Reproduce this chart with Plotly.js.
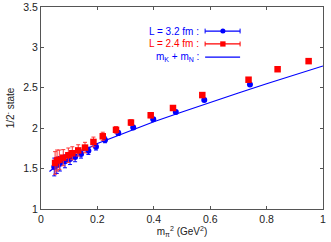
<!DOCTYPE html>
<html>
<head>
<meta charset="utf-8">
<script src="https://cdn.plot.ly/plotly-3.0.1.min.js"></script>
<style>html,body{margin:0;padding:0;background:#fff;}#chart{width:331px;height:242px;}</style>
</head>
<body>
<div id="chart"></div>
<script>
// L = 3.2 fm (blue circles)
const blueX = [0.047, 0.056, 0.067, 0.085, 0.103, 0.121, 0.142, 0.168, 0.195, 0.227, 0.274, 0.327, 0.398, 0.478, 0.579, 0.741];
const blueY = [1.52, 1.54, 1.56, 1.59, 1.62, 1.645, 1.68, 1.72, 1.77, 1.855, 1.94, 2.01, 2.11, 2.20, 2.35, 2.54];
const blueErr = [0.11, 0.10, 0.09, 0.08, 0.07, 0.06, 0.05, 0.045, 0.04, 0.035, 0.03, 0.025, 0.02, 0.02, 0.02, 0.015];
// L = 2.4 fm (red squares)
const redX = [0.050, 0.057, 0.065, 0.079, 0.097, 0.111, 0.132, 0.156, 0.186, 0.219, 0.266, 0.319, 0.389, 0.468, 0.572, 0.736, 0.839, 0.949];
const redY = [1.57, 1.60, 1.61, 1.635, 1.665, 1.69, 1.725, 1.76, 1.83, 1.90, 1.98, 2.07, 2.16, 2.25, 2.41, 2.60, 2.73, 2.83];
const redErr = [0.14, 0.13, 0.12, 0.10, 0.09, 0.08, 0.07, 0.065, 0.06, 0.05, 0.04, 0.035, 0.03, 0.03, 0.025, 0.02, 0.015, 0.015];
// m_K + m_N curve
const lineX = [0.03, 0.05, 0.075, 0.1, 0.15, 0.2, 0.25, 0.3, 0.4, 0.5, 0.6, 0.7, 0.8, 0.9, 1.0];
const lineY = [1.465, 1.52, 1.575, 1.625, 1.72, 1.81, 1.88, 1.95, 2.08, 2.20, 2.32, 2.435, 2.55, 2.66, 2.77];
// axis ticks
const xTicks = [0, 0.2, 0.4, 0.6, 0.8, 1];
const xTickText = ['0', '0.2', '0.4', '0.6', '0.8', '1'];
const yTicks = [1, 1.5, 2, 2.5, 3, 3.5];
const yTickText = ['1', '1.5', '2', '2.5', '3', '3.5'];
const legendLabels = ['L = 3.2 fm :', 'L = 2.4 fm :', 'm<sub>K</sub> + m<sub>N</sub> :'];

const BLUE = '#0000ff', RED = '#ff0000';

const traces = [
  {x: lineX, y: lineY, mode: 'lines', line: {color: BLUE, width: 1.2}, hoverinfo: 'skip'},
  {x: blueX, y: blueY, mode: 'markers', marker: {symbol: 'circle', size: 6, color: BLUE},
   error_y: {type: 'data', array: blueErr, visible: true, color: BLUE, thickness: 1, width: 2}},
  {x: redX, y: redY, mode: 'markers', marker: {symbol: 'square', size: 6.5, color: RED},
   error_y: {type: 'data', array: redErr, visible: true, color: '#ff3333', thickness: 1, width: 2}}
];

// legend geometry (paper coords)
const rows = [0.881, 0.817, 0.752];
const colors = [BLUE, RED, BLUE];
const x0 = 0.582, x1 = 0.706, xm = 0.645;
const shapes = [];
const annotations = [];
rows.forEach((yy, i) => {
  annotations.push({xref: 'paper', yref: 'paper', x: 0.567, y: yy, xanchor: 'right', yanchor: 'middle',
    text: legendLabels[i], showarrow: false, font: {family: 'Liberation Sans, Arial, sans-serif', size: 10, color: colors[i]}});
  shapes.push({type: 'line', xref: 'paper', yref: 'paper', x0: x0, x1: x1, y0: yy, y1: yy, line: {color: colors[i], width: 1.2}});
  if (i < 2) {
    shapes.push({type: 'line', xref: 'paper', yref: 'paper', x0: x0, x1: x0, y0: yy - 0.012, y1: yy + 0.012, line: {color: colors[i], width: 1}});
    shapes.push({type: 'line', xref: 'paper', yref: 'paper', x0: x1, x1: x1, y0: yy - 0.012, y1: yy + 0.012, line: {color: colors[i], width: 1}});
  }
});
shapes.push({type: 'circle', xref: 'paper', yref: 'paper', x0: xm - 0.009, x1: xm + 0.009, y0: rows[0] - 0.0125, y1: rows[0] + 0.0125, fillcolor: BLUE, line: {width: 0}});
shapes.push({type: 'rect', xref: 'paper', yref: 'paper', x0: xm - 0.0095, x1: xm + 0.0095, y0: rows[1] - 0.013, y1: rows[1] + 0.013, fillcolor: RED, line: {width: 0}});

const font = {family: 'Liberation Sans, Arial, sans-serif', size: 10.5, color: '#222'};
const layout = {
  width: 331, height: 242,
  margin: {l: 41, r: 8, t: 7, b: 33, pad: 0},
  paper_bgcolor: '#fff', plot_bgcolor: '#fff',
  showlegend: false,
  font: font,
  xaxis: {range: [0, 1], tickvals: xTicks, ticktext: xTickText, ticks: 'inside', ticklen: 3, tickcolor: '#555',
    showline: true, linecolor: '#555', linewidth: 1, mirror: 'ticks', showgrid: false, zeroline: false,
    title: {text: 'm<sub>π</sub><sup>2</sup> (GeV<sup>2</sup>)', font: {size: 10, color: '#222'}, standoff: 2}},
  yaxis: {range: [1, 3.5], tickvals: yTicks, ticktext: yTickText, ticks: 'inside', ticklen: 3, tickcolor: '#555',
    showline: true, linecolor: '#555', linewidth: 1, mirror: 'ticks', showgrid: false, zeroline: false,
    title: {text: '1/2<sup>-</sup> state', font: {size: 10, color: '#222'}, standoff: 6}},
  shapes: shapes,
  annotations: annotations
};
Plotly.newPlot('chart', traces, layout, {displayModeBar: false, staticPlot: true});
</script>
</body>
</html>
